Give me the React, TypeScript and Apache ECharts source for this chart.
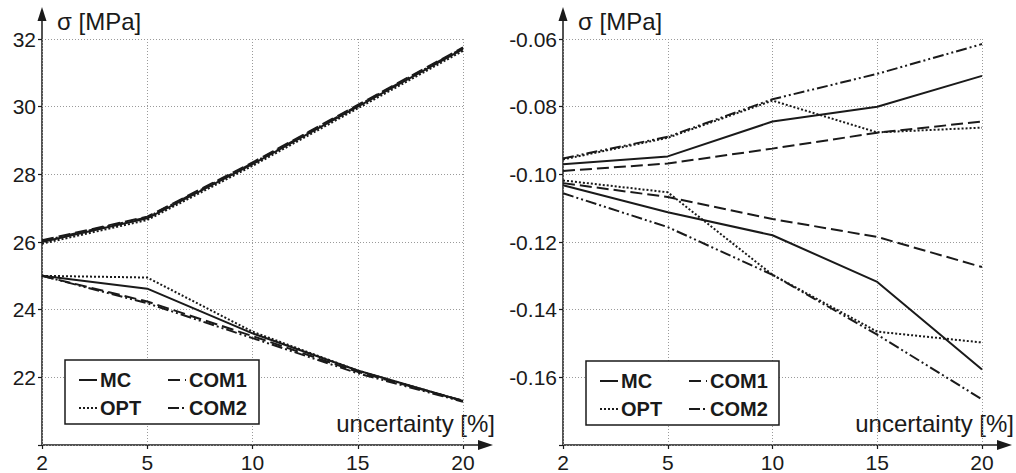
import React, { useEffect, useRef } from "react";
import * as echarts from "echarts";

const categories = ["2", "5", "10", "15", "20"];
const legendColA = ["MC", "OPT"];
const legendColB = ["COM1", "COM2"];

// Left chart
const mcUpperL = [26.0, 26.7, 28.3, 30.0, 31.7];
const com1UpperL = [26.05, 26.75, 28.35, 30.05, 31.75];
const optUpperL = [25.95, 26.65, 28.25, 29.95, 31.65];
const com2UpperL = [26.03, 26.73, 28.33, 30.03, 31.73];
const mcLowerL = [25.0, 24.62, 23.3, 22.2, 21.3];
const optLowerL = [25.0, 24.95, 23.35, 22.2, 21.3];
const com1LowerL = [25.0, 24.24, 23.22, 22.16, 21.31];
const com2LowerL = [25.0, 24.19, 23.16, 22.12, 21.28];

// Right chart
const mcUpperR = [-0.097, -0.0947, -0.0844, -0.08, -0.0709];
const optUpperR = [-0.0956, -0.0892, -0.0782, -0.0876, -0.0862];
const com1UpperR = [-0.099, -0.0968, -0.0924, -0.0877, -0.0844];
const com2UpperR = [-0.0953, -0.0889, -0.0778, -0.0703, -0.0615];
const mcLowerR = [-0.1032, -0.1112, -0.118, -0.1318, -0.1577];
const optLowerR = [-0.1018, -0.1053, -0.1297, -0.1465, -0.1497];
const com1LowerR = [-0.1026, -0.1067, -0.1132, -0.1185, -0.1274];
const com2LowerR = [-0.1056, -0.1156, -0.1297, -0.1474, -0.1665];

const FONT = "'Liberation Sans', Arial, sans-serif";
const INK = "#1a1a1a";

const lineTypes: Record<string, any> = {
  MC: "solid",
  COM1: [12, 5],
  OPT: [2, 2],
  COM2: [11, 3, 2, 3, 2, 3],
};

export default function App() {
  const ref = useRef<HTMLDivElement>(null);
  useEffect(() => {
    if (!ref.current) return;
    const chart = echarts.init(ref.current, null, { renderer: "svg" });

    const grids = [
      { left: 42, top: 39, width: 421, height: 406 },
      { left: 563, top: 39, width: 419, height: 406 },
    ];

    const mk = (name: string, data: number[], gi: number) => ({
      type: "line",
      name,
      xAxisIndex: gi,
      yAxisIndex: gi,
      data,
      symbol: "none",
      silent: true,
      lineStyle: { color: INK, width: 2, type: lineTypes[name] },
      itemStyle: { color: INK },
    });

    const series = [
      mk("MC", mcUpperL, 0),
      mk("COM1", com1UpperL, 0),
      mk("OPT", optUpperL, 0),
      mk("COM2", com2UpperL, 0),
      mk("MC", mcLowerL, 0),
      mk("COM1", com1LowerL, 0),
      mk("OPT", optLowerL, 0),
      mk("COM2", com2LowerL, 0),
      mk("MC", mcUpperR, 1),
      mk("COM1", com1UpperR, 1),
      mk("OPT", optUpperR, 1),
      mk("COM2", com2UpperR, 1),
      mk("MC", mcLowerR, 1),
      mk("COM1", com1LowerR, 1),
      mk("OPT", optLowerR, 1),
      mk("COM2", com2LowerR, 1),
    ];

    const splitStyle = { color: "#9a9a9a", width: 1, type: [1, 2] as any };

    const xAxis = grids.map((_, i) => ({
      type: "category",
      gridIndex: i,
      data: categories,
      boundaryGap: false,
      axisLine: { show: false },
      axisTick: { show: true, length: 4, lineStyle: { color: INK, width: 1.2 } },
      axisLabel: { color: INK, fontSize: 21, fontFamily: FONT, margin: 7 },
      splitLine: { show: true, lineStyle: splitStyle },
    }));

    const yMins = [20, -0.18];
    const yMaxs = [32, -0.06];
    const yInts = [2, 0.02];
    const yAxis = grids.map((_, i) => ({
      type: "value",
      gridIndex: i,
      min: yMins[i],
      max: yMaxs[i],
      interval: yInts[i],
      axisLine: { show: false },
      axisTick: { show: true, length: 4, lineStyle: { color: INK, width: 1.2 } },
      axisLabel: {
        color: INK,
        fontSize: 21,
        fontFamily: FONT,
        margin: 6,
        formatter: (v: number) => {
          if (Math.abs(v - yMins[i]) < 1e-9) return "";
          return i === 0 ? String(Math.round(v)) : v.toFixed(2);
        },
      },
      splitLine: { show: true, lineStyle: splitStyle },
    }));

    const graphic: any[] = [];
    const legends: any[] = [];
    const boxes = [
      { x: 65, y: 360, w: 194, h: 64, colA: 78, colB: 167, top: 370 },
      { x: 586, y: 361, w: 193, h: 64, colA: 599, colB: 688, top: 371 },
    ];
    const legendBase = {
      orient: "vertical",
      itemWidth: 18,
      itemHeight: 14,
      itemGap: 8,
      padding: 0,
      z: 5,
      selectedMode: false,
      itemStyle: {
        color: "rgba(0,0,0,0)",
        borderColor: "rgba(0,0,0,0)",
        borderWidth: 0,
        opacity: 0,
      },
      textStyle: {
        fontSize: 20,
        fontWeight: "bold",
        fontFamily: FONT,
        color: INK,
        padding: [0, 0, 0, -2],
      },
      inactiveColor: INK,
    };
    grids.forEach((g, i) => {
      const x0 = g.left;
      const y0 = g.top + g.height;
      const xEnd = g.left + g.width + 30;
      const b = boxes[i];
      graphic.push({
        type: "rect",
        silent: true,
        z: 1,
        shape: { x: b.x, y: b.y, width: b.w, height: b.h },
        style: { fill: "#fff", stroke: INK, lineWidth: 1.5 },
      });
      graphic.push({
        type: "line",
        silent: true,
        shape: { x1: x0, y1: y0, x2: x0, y2: 18 },
        style: { stroke: INK, lineWidth: 1.5 },
      });
      graphic.push({
        type: "polygon",
        silent: true,
        shape: { points: [[x0, 7], [x0 - 4.5, 21], [x0 + 4.5, 21]] },
        style: { fill: INK },
      });
      graphic.push({
        type: "line",
        silent: true,
        shape: { x1: x0, y1: y0, x2: xEnd - 10, y2: y0 },
        style: { stroke: INK, lineWidth: 1.5 },
      });
      graphic.push({
        type: "polygon",
        silent: true,
        shape: { points: [[xEnd, y0], [xEnd - 15, y0 - 5], [xEnd - 15, y0 + 5]] },
        style: { fill: INK },
      });
      graphic.push({
        type: "text",
        silent: true,
        x: x0 + 15,
        y: 21,
        style: {
          text: "σ [MPa]",
          fontSize: 24,
          fontFamily: FONT,
          fill: INK,
          verticalAlign: "middle",
        },
      });
      graphic.push({
        type: "text",
        silent: true,
        x: xEnd + 2,
        y: 423,
        style: {
          text: "uncertainty [%]",
          fontSize: 24,
          fontFamily: FONT,
          fill: INK,
          align: "right",
          verticalAlign: "middle",
        },
      });
      legends.push({ ...legendBase, left: b.colA, top: b.top, data: legendColA });
      legends.push({ ...legendBase, left: b.colB, top: b.top, data: legendColB });
    });

    chart.setOption({
      animation: false,
      backgroundColor: "#fff",
      grid: grids,
      xAxis,
      yAxis,
      legend: legends,
      series,
      graphic,
    });

    return () => chart.dispose();
  }, []);

  return (
    <div
      ref={ref}
      style={{ position: "fixed", left: 0, top: 0, width: 1016, height: 473 }}
    />
  );
}
